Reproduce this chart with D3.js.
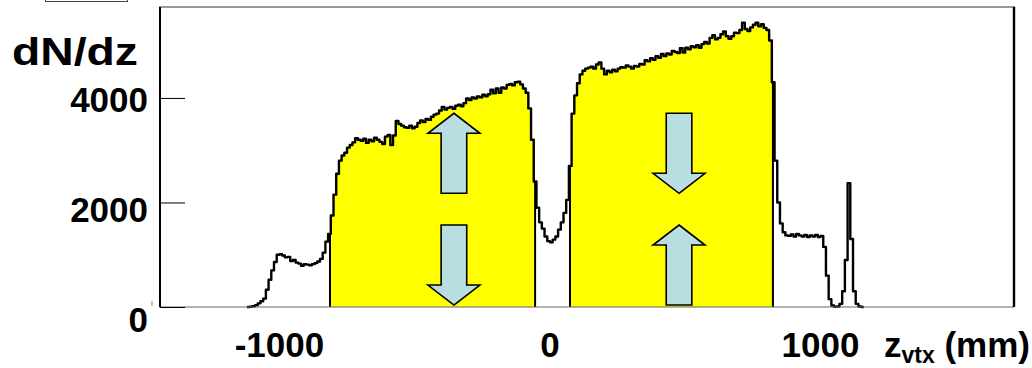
<!DOCTYPE html>
<html><head><meta charset="utf-8">
<script src="https://cdn.jsdelivr.net/npm/d3@7"></script>
<style>body{margin:0;background:#fff}svg{display:block}text{font-family:"Liberation Sans",Arial,sans-serif;font-weight:bold;fill:#000}</style>
</head><body><svg id="c" width="1032" height="368"></svg>
<script>
// ---- data ----
const binStart = -1120;   // mm, low edge of first bin
const binWidth = 10;      // mm
const counts = [
  0, 5, 15, 35, 70, 110, 160, 330, 520, 700,            // -1120 .. -1030
  860, 1000, 1010, 985, 950, 960, 880, 900, 850, 830,   // -1020 .. -930
  790, 820, 810, 800, 820, 840, 870, 920, 1040, 1250,   // -920 .. -830
  1400, 1750, 2150, 2550, 2800, 2900, 2950, 3050, 3100, 3150, // -820 .. -730
  3230, 3200, 3180, 3220, 3140, 3200, 3170, 3240, 3200, 3160, // -720 .. -630
  3120, 3260, 3290, 3100, 3280, 3560, 3500, 3470, 3440, 3430, // -620 .. -530
  3470, 3420, 3450, 3520, 3570, 3540, 3600, 3580, 3640, 3680, // -520 .. -430
  3700, 3760, 3830, 3780, 3810, 3830, 3790, 3850, 3870, 3840, // -420 .. -330
  3900, 3990, 3960, 4010, 3990, 4030, 4010, 4060, 4030, 4070, // -320 .. -230
  4160, 4090, 4180, 4100, 4200, 4180, 4250, 4270, 4240, 4300, // -220 .. -130
  4310, 4260, 4180, 4100, 3800, 3200, 2400, 1900, 1620, 1500, // -120 .. -30
  1350, 1260, 1240, 1290, 1350, 1480, 1620, 1800, 2050, 2700, // -20 .. 70
  3700, 4050, 4280, 4450, 4520, 4560, 4580, 4600, 4560, 4640, // 80 .. 170
  4680, 4560, 4450, 4520, 4490, 4540, 4510, 4560, 4590, 4580, // 180 .. 270
  4620, 4600, 4560, 4610, 4600, 4650, 4640, 4720, 4700, 4760, // 280 .. 370
  4730, 4800, 4770, 4840, 4800, 4850, 4830, 4900, 4880, 4860, // 380 .. 470
  4950, 4870, 4960, 4930, 4990, 4970, 5010, 4960, 5030, 5070, // 480 .. 570
  5040, 5150, 5200, 5120, 5150, 5220, 5270, 5180, 5130, 5180, // 580 .. 670
  5250, 5240, 5300, 5440, 5320, 5280, 5350, 5400, 5440, 5370, // 680 .. 770
  5410, 5340, 5300, 5100, 4300, 2800, 2000, 1600, 1430, 1370, // 780 .. 870
  1360, 1390, 1350, 1400, 1370, 1350, 1380, 1340, 1370, 1350, // 880 .. 970
  1380, 1340, 1360, 1150, 600, 150, 30, 5, 10, 60,      // 980 .. 1070
  300, 900, 2370, 1300, 300, 60, 10, 0                  // 1080 .. 1150
];
const fillCuts = [[-813, -55], [74, 824]];     // yellow selected regions (mm)
const xDomain = [-1445, 1715];
const yDomain = [0, 5740];
const xTicks = [-1000, 0, 1000];
const yTicks = [0, 2000, 4000];
const yTickLabels = ["0", "2000", "4000"];
// arrows: z position, tail value, tip value
const arrows = [
  {z: -355, from: 2176, to: 3707},
  {z: -355, from: 1569, to: 38},
  {z: 477, from: 3707, to: 2176},
  {z: 477, from: 38, to: 1569}
];

// ---- layout ----
const L = 159, R = 1014, T = 7, B = 307;
const svg = d3.select("#c");
const x = d3.scaleLinear().domain(xDomain).range([L, R]);
const y = d3.scaleLinear().domain(yDomain).range([B, T]);

const bins = counts.map((c, i) => ({x0: binStart + i * binWidth, x1: binStart + (i + 1) * binWidth, v: c}));
const stepPts = [];
bins.forEach(b => { stepPts.push([b.x0, b.v]); stepPts.push([b.x1, b.v]); });

// clip paths for yellow fills
const defs = svg.append("defs");
fillCuts.forEach((c, i) => {
  defs.append("clipPath").attr("id", "cut" + i)
    .append("rect").attr("x", x(c[0])).attr("y", T).attr("width", x(c[1]) - x(c[0])).attr("height", B - T);
});
const area = d3.area().x(d => x(d[0])).y0(y(0)).y1(d => y(d[1]));
fillCuts.forEach((c, i) => {
  svg.append("path").attr("d", area(stepPts)).attr("fill", "#ffff00").attr("clip-path", `url(#cut${i})`);
});
function valAt(z) {
  const i = Math.floor((z - binStart) / binWidth);
  return (i >= 0 && i < counts.length) ? counts[i] : 0;
}
fillCuts.forEach(c => {
  c.forEach(z => {
    svg.append("line").attr("x1", x(z)).attr("x2", x(z)).attr("y1", y(0)).attr("y2", y(valAt(z)))
      .attr("stroke", "#000").attr("stroke-width", 2);
  });
});

// arrows
const sw = 12.8, hw = 26, hl = 20;
arrows.forEach(a => {
  const cx = x(a.z), yt = y(a.to), yf = y(a.from);
  const s = Math.sign(yf - yt);
  const yb = yt + s * hl;
  const pts = [[cx, yt], [cx + hw, yb], [cx + sw, yb], [cx + sw, yf], [cx - sw, yf], [cx - sw, yb], [cx - hw, yb]];
  svg.append("path").attr("d", d3.line()(pts) + "Z").attr("fill", "#b9dee2").attr("stroke", "#000").attr("stroke-width", 1.6).attr("stroke-linejoin", "miter");
});

// histogram line
svg.append("path").attr("d", d3.line().x(d => x(d[0])).y(d => y(d[1]))(stepPts))
  .attr("fill", "none").attr("stroke", "#000").attr("stroke-width", 2.4).attr("stroke-linejoin", "round");

// frame
svg.append("line").attr("x1", L).attr("x2", R + 1).attr("y1", T).attr("y2", T).attr("stroke", "#999").attr("stroke-width", 2);
svg.append("line").attr("x1", L).attr("x2", R).attr("y1", B).attr("y2", B).attr("stroke", "#666").attr("stroke-width", 1.2);
svg.append("line").attr("x1", R).attr("x2", R).attr("y1", T).attr("y2", B).attr("stroke", "#000").attr("stroke-width", 2.4);
svg.append("line").attr("x1", L + 1).attr("x2", L + 1).attr("y1", T).attr("y2", B).attr("stroke", "#000").attr("stroke-width", 2);

// y ticks
const yAxis = d3.axisRight(y).tickValues(yTicks).tickSize(25).tickFormat("");
const ya = svg.append("g").attr("transform", `translate(${L + 1},0)`).call(yAxis);
ya.select(".domain").remove();
ya.selectAll("line").attr("stroke", "#000").attr("stroke-width", 1);

// y labels (slightly offset downward as in the original)
const labOff = d3.scaleLinear().domain([0, 4000]).range([25, 14]);
svg.selectAll(".ylab").data(yTicks).enter().append("text").attr("class", "ylab")
  .attr("x", 148).attr("y", d => y(d) + labOff(d)).attr("text-anchor", "end").attr("font-size", 35)
  .text((d, i) => yTickLabels[i]);
// small stray mark next to the zero label
svg.append("line").attr("x1", 152).attr("x2", 152).attr("y1", 301).attr("y2", 306).attr("stroke", "#888").attr("stroke-width", 1);

// x labels
svg.selectAll(".xlab").data(xTicks).enter().append("text").attr("class", "xlab")
  .attr("x", d => x(d)).attr("y", 357).attr("text-anchor", "middle").attr("font-size", 35)
  .text(d => d3.format("d")(d).replace("−", "-"));

// x title
const xt = svg.append("text").attr("x", 1030).attr("y", 357).attr("text-anchor", "end").attr("font-size", 35);
xt.append("tspan").text("z");
xt.append("tspan").attr("font-size", 23).attr("dy", 6).text("vtx");
xt.append("tspan").attr("dy", -6).text(" (mm)");

// y title
svg.append("text").attr("x", 12).attr("y", 65).attr("font-size", 38).attr("textLength", 126).attr("lengthAdjust", "spacingAndGlyphs").text("dN/dz");

// small box at top-left
svg.append("rect").attr("x", 45.5).attr("y", -6).attr("width", 82).attr("height", 7.5).attr("fill", "none").attr("stroke", "#444").attr("stroke-width", 1);
</script></body></html>
